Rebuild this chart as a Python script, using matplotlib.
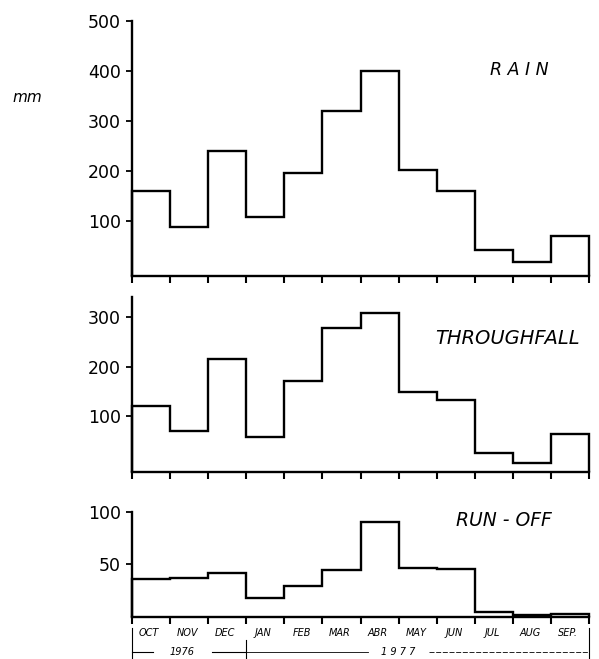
import numpy as np
import matplotlib
matplotlib.use('Agg')
import matplotlib.pyplot as plt
from matplotlib import transforms


months = ['OCT', 'NOV', 'DEC', 'JAN', 'FEB', 'MAR',
          'ABR', 'MAY', 'JUN', 'JUL', 'AUG', 'SEP.']
rain = [160, 88, 240, 107, 196, 320, 400, 202, 159, 41, 17, 70]
throughfall = [121, 70, 215, 58, 170, 278, 308, 148, 132, 26, 7, 64]
runoff = [36, 37, 41, 17, 29, 44, 90, 46, 45, 4, 1, 2]

rain_ticks = [100, 200, 300, 400, 500]
tf_ticks = [100, 200, 300]
ro_ticks = [50, 100]

edges = np.arange(len(months) + 1)

fig = plt.figure(figsize=(5.99, 6.59), dpi=100)


def panel(rect, values, ylim, yticks, title, tx, ty, tsize):
    ax = fig.add_axes(rect)
    ax.stairs(values, edges, baseline=ylim[0], color='black',
              lw=1.7, clip_on=False)
    ax.set_xlim(0, 12)
    ax.set_ylim(*ylim)
    for s in ['top', 'right']:
        ax.spines[s].set_visible(False)
    for s in ['left', 'bottom']:
        ax.spines[s].set_linewidth(1.7)
    ax.set_xticks(edges)
    ax.set_xticklabels([])
    ax.set_yticks(yticks)
    ax.tick_params(axis='x', direction='out', length=5, width=1.5)
    ax.tick_params(axis='y', direction='out', length=4, width=1.3,
                   labelsize=12.5, pad=4)
    ax.text(tx, ty, title, style='italic', fontsize=tsize,
            ha='left', va='center')
    return ax


ax1 = panel([0.2204, 0.5812, 0.763, 0.387], rain, (-11, 500),
            rain_ticks, 'R A I N', 9.4, 402, 12.5)
ax2 = panel([0.2204, 0.2838, 0.763, 0.2656], throughfall, (-12, 340),
            tf_ticks, 'THROUGHFALL', 7.95, 257, 14)
ax3 = panel([0.2204, 0.0637, 0.763, 0.1593], runoff, (-1, 100),
            ro_ticks, 'RUN - OFF', 8.5, 92, 13.5)

fig.text(12 / 599, 1 - 98 / 659, 'mm', style='italic', fontsize=11,
         ha='left', va='center')

# month names and year brackets under the bottom panel
tr = transforms.blended_transform_factory(ax3.transData, fig.transFigure)
for i, m in enumerate(months):
    fig.text(i + 0.45, 0.0395, m, transform=tr, style='italic',
             fontsize=7, ha='center', va='center')

for x, y0 in [(0, 0.047), (3, 0.029), (12, 0.047)]:
    fig.lines.append(plt.Line2D([x, x], [y0, 0.002], transform=tr,
                                color='black', lw=0.8))

fig.lines.append(plt.Line2D([0, 0.55], [0.0106, 0.0106], transform=tr,
                            color='black', lw=0.8))
fig.lines.append(plt.Line2D([2.1, 3], [0.0106, 0.0106], transform=tr,
                            color='black', lw=0.8))
fig.text(1.3, 0.0106, '1976', transform=tr, style='italic', fontsize=7,
         ha='center', va='center')
fig.lines.append(plt.Line2D([3, 6.2], [0.0106, 0.0106], transform=tr,
                            color='black', lw=0.6))
fig.text(7.0, 0.0106, '1 9 7 7', transform=tr, style='italic', fontsize=7,
         ha='center', va='center')
fig.lines.append(plt.Line2D([7.8, 12], [0.0106, 0.0106], transform=tr,
                            color='black', lw=0.6, ls=(0, (6, 2))))

plt.savefig('out.png', dpi=100)
